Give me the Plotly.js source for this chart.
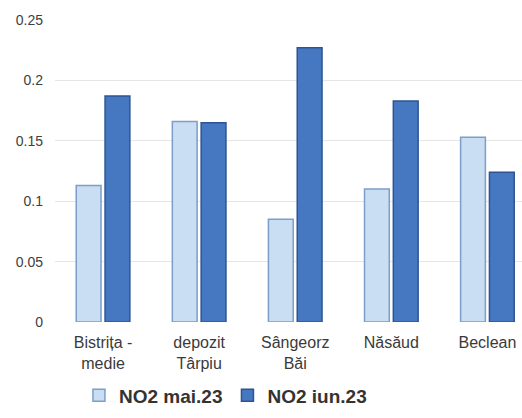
<!DOCTYPE html>
<html>
<head>
<meta charset="utf-8">
<script src="https://cdn.plot.ly/plotly-3.0.1.min.js"></script>
<style>
html,body{margin:0;padding:0;background:#fff;}
#chart{width:522px;height:418px;}
</style>
</head>
<body>
<div id="chart"></div>
<script>
var categories = ["Bistrița -<br>medie", "depozit<br>Târpiu", "Sângeorz<br>Băi", "Năsăud", "Beclean"];
var seriesNames = ["NO2 mai.23", "NO2 iun.23"];
var valuesMai = [0.113, 0.166, 0.085, 0.110, 0.153];
var valuesIun = [0.187, 0.165, 0.227, 0.183, 0.124];
var yTicks = [0, 0.05, 0.1, 0.15, 0.2, 0.25];
var yTickLabels = ["0", "0.05", "0.1", "0.15", "0.2", "0.25"];

var traces = [
  {
    type: "bar",
    name: seriesNames[0],
    x: categories,
    y: valuesMai,
    marker: {color: "#c9def3", line: {color: "#7d9dca", width: 1.5}}
  },
  {
    type: "bar",
    name: seriesNames[1],
    x: categories,
    y: valuesIun,
    marker: {color: "#4678c2", line: {color: "#2c5494", width: 1.5}}
  }
];

var layout = {
  width: 522,
  height: 418,
  margin: {l: 55, r: 0, t: 20, b: 96},
  paper_bgcolor: "#ffffff",
  plot_bgcolor: "#ffffff",
  barmode: "group",
  bargap: 0.4,
  bargroupgap: 0.14,
  font: {family: "Liberation Sans, Arial, sans-serif", color: "#404040"},
  xaxis: {
    type: "category",
    range: [-0.5, 4.36],
    showgrid: false,
    showline: false,
    zeroline: false,
    ticks: "",
    ticklabelstandoff: 9,
    tickfont: {size: 16, color: "#3a3a3a"},
    automargin: false
  },
  yaxis: {
    range: [0, 0.25],
    tickvals: yTicks,
    ticktext: yTickLabels,
    showgrid: true,
    gridcolor: "#e6e6e6",
    gridwidth: 1,
    zeroline: false,
    showline: false,
    ticks: "",
    ticklabelstandoff: 11,
    tickfont: {size: 14, color: "#404040"},
    automargin: false
  },
  showlegend: true,
  legend: {
    orientation: "h",
    x: 0.365,
    xanchor: "center",
    y: -0.18,
    yanchor: "top",
    font: {size: 19, color: "#333333", weight: "bold"},
    itemwidth: 30,
    traceorder: "normal"
  }
};

Plotly.newPlot("chart", traces, layout, {displayModeBar: false, staticPlot: true});
</script>
</body>
</html>
